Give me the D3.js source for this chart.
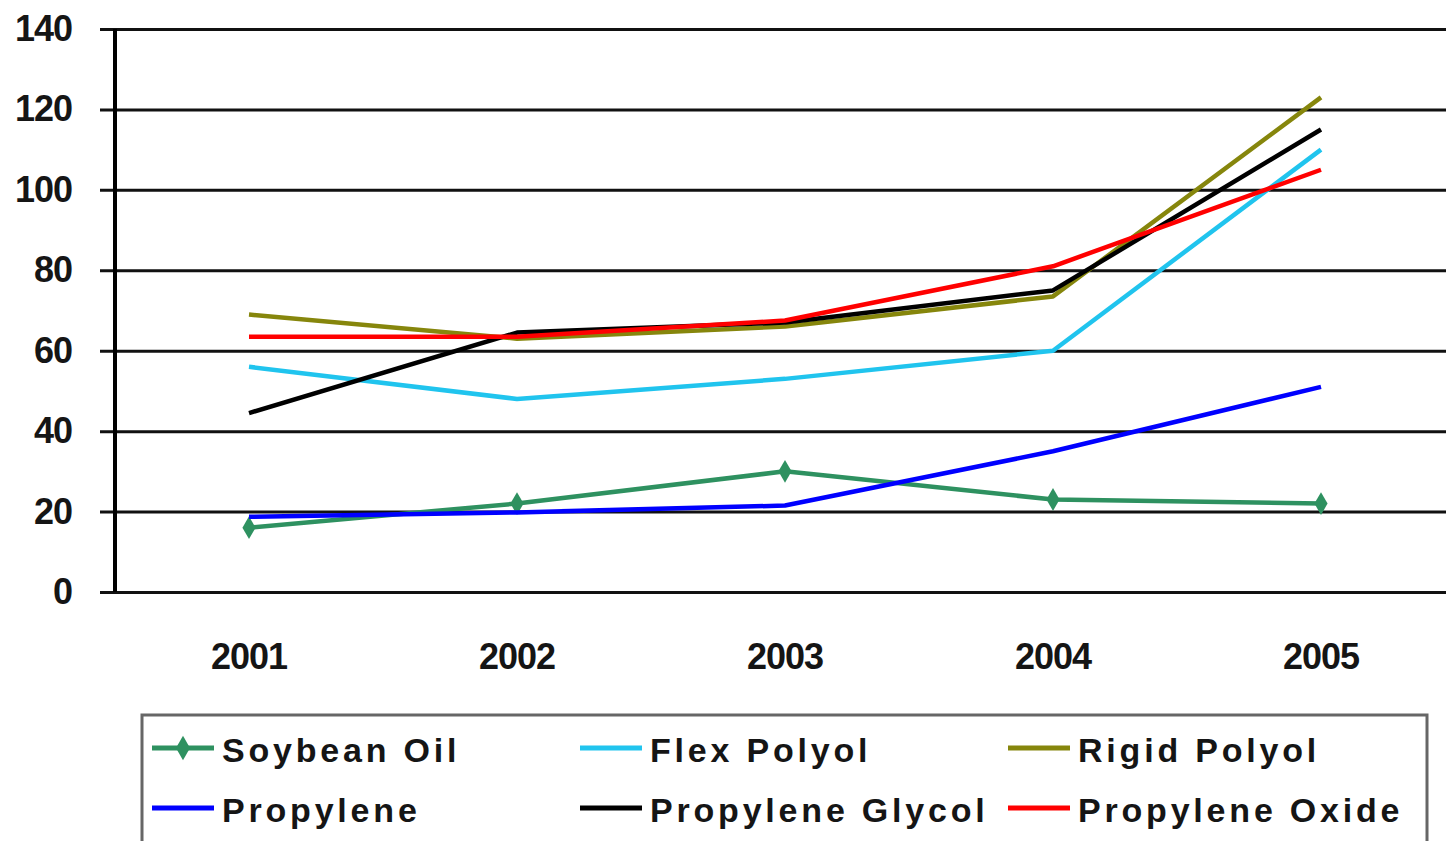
<!DOCTYPE html>
<html><head><meta charset="utf-8">
<script src="https://cdn.jsdelivr.net/npm/d3@7"></script>
<style>body{margin:0;background:#fff;overflow:hidden}svg{display:block}</style>
</head><body>
<script>
const years = ["2001","2002","2003","2004","2005"];
const yTicks = [0,20,40,60,80,100,120,140];
const soybeanOil = [16,22,30,23,22];
const flexPolyol = [56,48,53,60,110];
const rigidPolyol = [69,63,66,73.5,123];
const propylene = [18.7,19.8,21.5,35,51];
const propyleneGlycol = [44.5,64.5,67,75,115];
const propyleneOxide = [63.5,63.5,67.5,81,105];
const seriesNames = ["Soybean Oil","Flex Polyol","Rigid Polyol","Propylene","Propylene Glycol","Propylene Oxide"];
const seriesColors = ["#2e9160","#20c4ee","#86860c","#0000ff","#000000","#ff0000"];

const series = [soybeanOil,flexPolyol,rigidPolyol,propylene,propyleneGlycol,propyleneOxide]
  .map((v,i)=>({name:seriesNames[i],color:seriesColors[i],values:v,marker:i===0}));

(function(){
const W=1446,H=841;
const svg=d3.select("body").append("svg").attr("width",W).attr("height",H);
const pL=115, pR=1455, pT=29, pB=592;
const x=d3.scaleBand().domain(years).range([pL,pR]);
const y=d3.scaleLinear().domain([0,140]).range([pB,pT]);
const font="'Liberation Sans', Arial, sans-serif";

// gridlines
const grid=svg.append("g").attr("transform",`translate(${pL},0)`)
  .call(d3.axisLeft(y).tickValues(yTicks).tickSize(-(pR-pL)).tickFormat(""));
grid.select(".domain").remove();
grid.selectAll("line").attr("stroke","#111").attr("stroke-width",3).attr("x1",-15);

// y axis labels
const ya=svg.append("g").attr("transform",`translate(${pL},0)`)
  .call(d3.axisLeft(y).tickValues(yTicks).tickSize(0).tickPadding(43));
ya.select(".domain").remove();
ya.selectAll("text").attr("font-family",font).attr("font-weight","bold").attr("font-size",36)
  .attr("fill","#151515").attr("letter-spacing",-1);

// vertical axis
svg.append("line").attr("x1",pL).attr("x2",pL).attr("y1",y(140)).attr("y2",y(0))
  .attr("stroke","#000").attr("stroke-width",4);

// x axis labels
const xa=svg.append("g").attr("transform",`translate(0,${pB})`)
  .call(d3.axisBottom(x).tickSize(0).tickPadding(51));
xa.select(".domain").remove();
xa.selectAll("text").attr("font-family",font).attr("font-weight","bold").attr("font-size",36)
  .attr("fill","#151515").attr("letter-spacing",-1);

const line=d3.line().x((d,i)=>x(years[i])+x.bandwidth()/2).y(d=>y(d));
const g=svg.append("g");
series.forEach(s=>{
  g.append("path").attr("d",line(s.values)).attr("fill","none")
   .attr("stroke",s.color).attr("stroke-width",4.5).attr("stroke-linejoin","round");
  if(s.marker){
    g.selectAll(null).data(s.values).enter().append("path")
     .attr("d",d3.symbol(d3.symbolDiamond,150)())
     .attr("transform",(d,i)=>`translate(${x(years[i])+x.bandwidth()/2},${y(d)})`)
     .attr("fill",s.color);
  }
});

// legend
const lg=svg.append("g");
lg.append("rect").attr("x",142).attr("y",715).attr("width",1285).attr("height",140)
  .attr("fill","#fff").attr("stroke","#666").attr("stroke-width",3);
const colX=[152,580,1008], rowY=[750,810];
series.forEach((s,i)=>{
  const cx=colX[i%3], cy=rowY[Math.floor(i/3)];
  lg.append("line").attr("x1",cx).attr("x2",cx+62).attr("y1",cy-2).attr("y2",cy-2)
    .attr("stroke",s.color).attr("stroke-width",5);
  if(s.marker){
    lg.append("path").attr("d",d3.symbol(d3.symbolDiamond,170)())
      .attr("transform",`translate(${cx+31},${cy-2})`).attr("fill",s.color);
  }
  lg.append("text").attr("x",cx+70).attr("y",cy+12).text(s.name)
    .attr("font-family",font).attr("font-weight","bold").attr("font-size",34)
    .attr("letter-spacing",3.8).attr("fill","#151515");
});
})();
</script>
</body></html>
